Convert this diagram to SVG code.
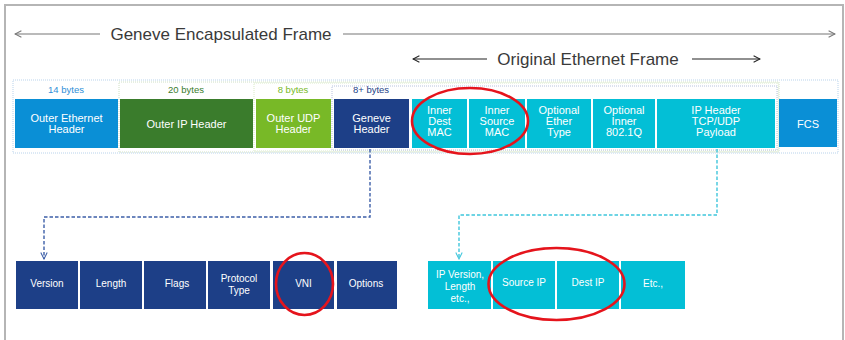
<svg xmlns="http://www.w3.org/2000/svg" width="845" height="340" viewBox="0 0 845 340">
  <defs>
    <marker id="chev-gray" viewBox="0 0 10 10" refX="9" refY="5" markerWidth="8" markerHeight="8" orient="auto-start-reverse" markerUnits="userSpaceOnUse">
      <path d="M1,1 L9,5 L1,9" fill="none" stroke="#777" stroke-width="1.3"/>
    </marker>
    <marker id="chev-black" viewBox="0 0 10 10" refX="9" refY="5" markerWidth="8" markerHeight="8" orient="auto-start-reverse" markerUnits="userSpaceOnUse">
      <path d="M1,1 L9,5 L1,9" fill="none" stroke="#222" stroke-width="1.3"/>
    </marker>
    <marker id="chev-navy" viewBox="0 0 10 10" refX="9" refY="5" markerWidth="8" markerHeight="8" orient="auto" markerUnits="userSpaceOnUse">
      <path d="M1,1 L9,5 L1,9" fill="none" stroke="#3d5fa8" stroke-width="1.3"/>
    </marker>
    <marker id="chev-cyan" viewBox="0 0 10 10" refX="9" refY="5" markerWidth="8" markerHeight="8" orient="auto" markerUnits="userSpaceOnUse">
      <path d="M1,1 L9,5 L1,9" fill="none" stroke="#3fc6dc" stroke-width="1.3"/>
    </marker>
  </defs>
  <style>
    .title { font-family: "Liberation Sans", Arial, sans-serif; font-size: 17px; fill: #3a3a3a; }
    .bytes { font-family: "Liberation Sans", Arial, sans-serif; font-size: 9.5px; text-anchor: middle; }
    .lbl { font-family: "Liberation Sans", Arial, sans-serif; font-size: 11px; fill: #ffffff; text-anchor: middle; }
    .lbl2 { font-family: "Liberation Sans", Arial, sans-serif; font-size: 10px; fill: #ffffff; text-anchor: middle; }
    .blue { fill: #0a8fd6; }
    .dgreen { fill: #3a7c2c; }
    .lgreen { fill: #78b927; }
    .navy { fill: #1d3f87; }
    .cyan { fill: #03bfd6; }
    .hl { fill: none; stroke: #e5141c; stroke-width: 2.6; }
    .band { fill: none; stroke-width: 1; stroke-dasharray: 1 1; }
  </style>

  <!-- page frame -->
  <path d="M5,340 L5,5 L843,5 L843,340" fill="none" stroke="#b5b5b5" stroke-width="2"/>

  <!-- span arrows -->
  <g id="span-geneve">
    <line x1="15" y1="34" x2="100" y2="34" stroke="#777" stroke-width="1.2" marker-start="url(#chev-gray)"/>
    <line x1="343" y1="34" x2="835" y2="34" stroke="#777" stroke-width="1.2" marker-end="url(#chev-gray)"/>
    <text class="title" x="221" y="40" text-anchor="middle">Geneve Encapsulated Frame</text>
  </g>
  <g id="span-original">
    <line x1="413" y1="59" x2="487" y2="59" stroke="#222" stroke-width="1.2" marker-start="url(#chev-black)"/>
    <line x1="692" y1="59" x2="760" y2="59" stroke="#222" stroke-width="1.2" marker-end="url(#chev-black)"/>
    <text class="title" x="588" y="65" text-anchor="middle">Original Ethernet Frame</text>
  </g>

  <!-- field bands -->
  <rect class="band" x="13" y="80" width="825" height="73" stroke="#b9d3ec"/>
  <rect class="band" x="119" y="82" width="660" height="70" stroke="#cfe0c4"/>
  <rect class="band" x="254" y="83" width="524" height="68" stroke="#d9ebc6"/>
  <rect class="band" x="332" y="86" width="445" height="64" stroke="#b7c3de"/>

  <!-- byte counts -->
  <text class="bytes" x="66" y="93" fill="#2f8fd8">14 bytes</text>
  <text class="bytes" x="186" y="93" fill="#3a7c2c">20 bytes</text>
  <text class="bytes" x="293" y="93" fill="#78b927">8 bytes</text>
  <text class="bytes" x="371" y="93" fill="#1d3f87">8+ bytes</text>

  <!-- encapsulated frame fields -->
  <g id="outer-eth">
    <rect class="blue" x="15" y="99" width="103" height="49"/>
    <text class="lbl"><tspan x="66.5" y="121.5">Outer Ethernet</tspan><tspan x="66.5" y="132.5">Header</tspan></text>
  </g>
  <g id="outer-ip">
    <rect class="dgreen" x="120" y="99" width="133" height="49"/>
    <text class="lbl" x="186.5" y="127.5">Outer IP Header</text>
  </g>
  <g id="outer-udp">
    <rect class="lgreen" x="256" y="99" width="75" height="49"/>
    <text class="lbl"><tspan x="293.5" y="121.5">Outer UDP</tspan><tspan x="293.5" y="132.5">Header</tspan></text>
  </g>
  <g id="geneve-hdr">
    <rect class="navy" x="334" y="99" width="75" height="49"/>
    <text class="lbl"><tspan x="371.5" y="121.5">Geneve</tspan><tspan x="371.5" y="132.5">Header</tspan></text>
  </g>
  <g id="inner-dest-mac">
    <rect class="cyan" x="412" y="99" width="55" height="49"/>
    <text class="lbl"><tspan x="439.5" y="114">Inner</tspan><tspan x="439.5" y="125">Dest</tspan><tspan x="439.5" y="136">MAC</tspan></text>
  </g>
  <g id="inner-src-mac">
    <rect class="cyan" x="469" y="99" width="56" height="49"/>
    <text class="lbl"><tspan x="497" y="114">Inner</tspan><tspan x="497" y="125">Source</tspan><tspan x="497" y="136">MAC</tspan></text>
  </g>
  <g id="opt-ethertype">
    <rect class="cyan" x="527" y="99" width="64" height="49"/>
    <text class="lbl"><tspan x="559" y="114">Optional</tspan><tspan x="559" y="125">Ether</tspan><tspan x="559" y="136">Type</tspan></text>
  </g>
  <g id="opt-8021q">
    <rect class="cyan" x="593" y="99" width="62" height="49"/>
    <text class="lbl"><tspan x="624" y="114">Optional</tspan><tspan x="624" y="125">Inner</tspan><tspan x="624" y="136">802.1Q</tspan></text>
  </g>
  <g id="ip-payload">
    <rect class="cyan" x="657" y="99" width="118" height="49"/>
    <text class="lbl"><tspan x="716" y="114">IP Header</tspan><tspan x="716" y="125">TCP/UDP</tspan><tspan x="716" y="136">Payload</tspan></text>
  </g>
  <g id="fcs">
    <rect class="blue" x="779" y="99" width="58" height="48"/>
    <text class="lbl" x="808" y="127.5">FCS</text>
  </g>

  <!-- connectors -->
  <g id="connectors">
    <path d="M370,149 L370,217 L44,217 L44,259" fill="none" stroke="#3d5fa8" stroke-width="1.4" stroke-dasharray="3.5 2" marker-end="url(#chev-navy)"/>
    <path d="M717,149 L717,215 L459,215 L459,259" fill="none" stroke="#3fc6dc" stroke-width="1.4" stroke-dasharray="3.5 2" marker-end="url(#chev-cyan)"/>
  </g>

  <!-- geneve header fields -->
  <g id="g-version">
    <rect class="navy" x="16" y="261" width="62" height="48"/>
    <text class="lbl2" x="47" y="286.5">Version</text>
  </g>
  <g id="g-length">
    <rect class="navy" x="80" y="261" width="62" height="48"/>
    <text class="lbl2" x="111" y="286.5">Length</text>
  </g>
  <g id="g-flags">
    <rect class="navy" x="144" y="261" width="62" height="48"/>
    <text class="lbl2" x="177" y="286.5">Flags</text>
  </g>
  <g id="g-proto">
    <rect class="navy" x="208" y="261" width="62" height="48"/>
    <text class="lbl2"><tspan x="239" y="281.5">Protocol</tspan><tspan x="239" y="293.5">Type</tspan></text>
  </g>
  <g id="g-vni">
    <rect class="navy" x="273" y="261" width="61" height="48"/>
    <text class="lbl2" x="303.5" y="286.5">VNI</text>
  </g>
  <g id="g-options">
    <rect class="navy" x="337" y="261" width="60" height="48"/>
    <text class="lbl2" x="366" y="286.5">Options</text>
  </g>

  <!-- inner IP header fields -->
  <g id="ip-version">
    <rect class="cyan" x="428" y="261" width="63" height="48"/>
    <text class="lbl2"><tspan x="460" y="277.5">IP Version,</tspan><tspan x="460" y="290">Length</tspan><tspan x="460" y="301.5">etc.,</tspan></text>
  </g>
  <g id="ip-src">
    <rect class="cyan" x="493" y="261" width="62" height="48"/>
    <text class="lbl2" x="524" y="286">Source IP</text>
  </g>
  <g id="ip-dst">
    <rect class="cyan" x="557" y="261" width="62" height="48"/>
    <text class="lbl2" x="588" y="286">Dest IP</text>
  </g>
  <g id="ip-etc">
    <rect class="cyan" x="621" y="261" width="64" height="48"/>
    <text class="lbl2" x="653" y="286.5">Etc.,</text>
  </g>

  <!-- highlight rings -->
  <ellipse class="hl" cx="470" cy="121" rx="58" ry="33"/>
  <ellipse class="hl" cx="304.5" cy="284" rx="28.5" ry="31"/>
  <ellipse class="hl" cx="556.5" cy="284" rx="68" ry="36"/>
</svg>
